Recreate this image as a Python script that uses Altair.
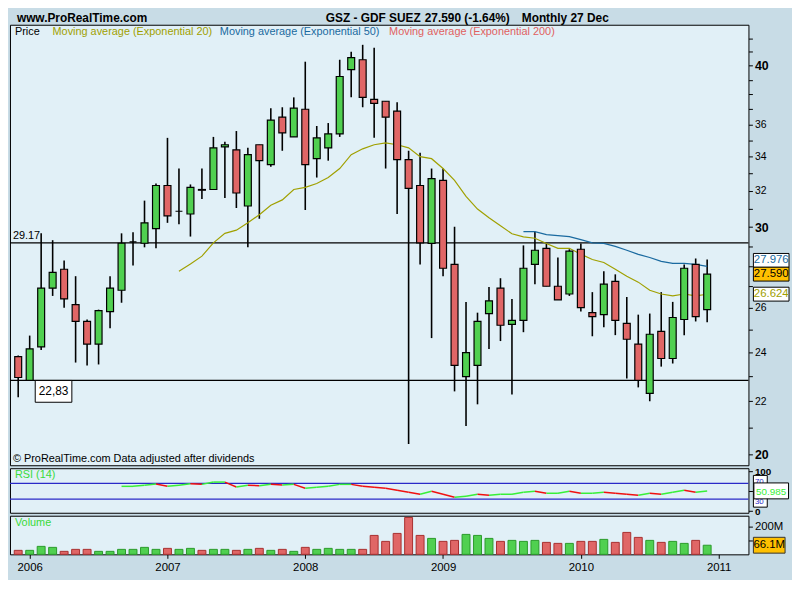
import altair as alt
import pandas as pd

FONT = "Liberation Sans"

# ---------------- data (monthly candles, index 0 = Dec 2005 ... 60 = Dec 2010) ----------------
opens = [23.82, 22.83, 24.24, 26.91, 27.83, 26.13, 25.36, 24.36, 25.81, 26.81,
         29.22, 29.15, 29.92, 32.31, 30.86, 30.71, 32.08, 32.08, 34.61, 34.43,
         31.15, 34.74, 33.53, 36.49, 35.23, 37.01, 33.89, 34.55, 35.42, 39.72,
         40.42, 37.67, 37.54, 36.88, 33.83, 32.31, 29.14, 32.60, 28.07, 22.99,
         23.45, 25.72, 26.91, 25.23, 25.41, 28.07, 28.89, 27.00, 26.63, 28.84,
         25.76, 25.67, 27.24, 25.27, 24.36, 22.31, 24.92, 23.74, 25.45, 28.07,
         25.90]
highs = [23.87, 24.73, 29.67, 29.31, 28.27, 27.49, 25.45, 25.90, 27.49, 29.67,
         29.73, 31.45, 32.42, 35.17, 33.30, 32.37, 33.30, 35.23, 34.92, 35.60,
         34.55, 34.74, 37.08, 37.14, 37.80, 40.28, 35.92, 36.11, 40.42, 41.00,
         41.51, 41.29, 37.54, 37.47, 34.37, 34.25, 33.30, 33.30, 30.02, 26.26,
         25.76, 26.96, 27.39, 26.40, 29.04, 29.76, 29.14, 28.42, 28.84, 29.14,
         26.72, 27.73, 27.58, 26.49, 25.67, 25.72, 26.72, 26.26, 28.07, 28.37,
         28.32]
lows = [22.16, 22.83, 24.10, 26.54, 25.99, 23.57, 23.45, 23.49, 25.05, 26.22,
        28.02, 28.94, 28.89, 30.23, 30.16, 29.50, 31.54, 32.08, 31.60, 31.04,
        28.94, 30.45, 33.41, 34.37, 35.23, 30.93, 32.77, 33.77, 35.23, 37.80,
        37.14, 35.17, 33.30, 30.71, 20.39, 28.07, 24.62, 27.49, 22.39, 21.05,
        21.88, 24.15, 24.49, 22.27, 24.88, 27.10, 27.00, 26.35, 26.54, 25.81,
        24.70, 25.10, 24.75, 22.91, 22.55, 22.00, 23.40, 23.53, 24.75, 25.36,
        25.32]
closes = [22.95, 24.15, 26.91, 27.68, 26.40, 25.36, 24.36, 25.85, 26.91, 29.15,
          29.22, 30.23, 32.31, 30.61, 30.86, 32.20, 32.04, 34.55, 34.74, 31.88,
          34.13, 33.77, 36.30, 35.48, 37.08, 33.53, 35.17, 35.42, 39.23, 40.57,
          37.80, 37.40, 36.49, 33.83, 32.14, 29.17, 32.71, 27.88, 23.45, 23.99,
          25.36, 26.31, 25.19, 25.41, 27.88, 28.79, 27.00, 26.35, 28.74, 25.99,
          25.58, 27.10, 25.41, 24.57, 22.83, 24.79, 23.74, 25.54, 27.88, 25.58,
          27.59]
volumes_m = [28.9, 28.9, 57.8, 50.6, 21.7, 36.1, 36.1, 21.7, 21.7, 36.1,
             36.1, 50.6, 36.1, 43.4, 36.1, 43.4, 28.9, 36.1, 36.1, 28.9,
             36.1, 43.4, 28.9, 36.1, 21.7, 50.6, 36.1, 43.4, 36.1, 36.1,
             36.1, 137.3, 94.0, 151.8, 267.5, 137.3, 115.7, 94.0, 101.2, 144.6,
             137.3, 115.7, 94.0, 101.2, 94.0, 101.2, 86.8, 79.5, 79.5, 94.0,
             94.0, 108.5, 86.8, 159.1, 122.9, 101.2, 86.8, 94.0, 79.5, 101.2,
             66.1]

ema20_start = 14
ema20 = [27.73, 28.09, 28.49, 29.17, 29.67, 29.84, 30.23, 30.67, 31.19, 31.49,
         32.08, 32.20, 32.42, 32.77, 33.30, 34.13, 34.49, 34.74, 34.86, 34.74,
         34.55, 34.01, 33.89, 33.30, 32.60, 31.69, 30.98, 30.50, 30.07, 29.65,
         29.48, 29.41, 29.14, 28.89, 28.89, 28.59, 28.32, 28.17, 27.83, 27.49,
         27.20, 26.81, 26.63, 26.54, 26.63, 26.54, 26.62]
ema50_start = 44
ema50 = [29.76, 29.76, 29.60, 29.55, 29.50, 29.34, 29.17, 29.14, 28.99, 28.79,
         28.58, 28.42, 28.22, 28.12, 28.12, 28.07, 27.98]
rsi_start = 9
rsi = [62.5, 62.5, 65.0, 68.3, 62.5, 65.0, 69.0, 67.5, 73.3, 73.3,
       60.8, 65.0, 64.2, 67.5, 65.8, 67.5, 57.5, 60.0, 62.5, 67.5,
       67.5, 62.5, 60.0, 57.5, 52.5, 47.5, 42.5, 50.0, 42.5, 35.0,
       37.5, 42.5, 40.0, 42.5, 42.5, 47.5, 50.0, 45.0, 45.0, 50.0,
       45.0, 45.0, 47.5, 45.0, 42.5, 40.0, 45.0, 42.5, 47.5, 52.5,
       47.5, 51.0]
rsi_levels = [70, 30]
rsi_level_label_pos = [73.75, 23.5]

year_ticks = [1, 13, 25, 37, 49, 61]
year_labels = ["2006", "2007", "2008", "2009", "2010", "2011"]
price_ticks = list(range(20, 43))
price_labels = [20, 22, 24, 26, 30, 32, 34, 36, 40]
support_levels = [29.17, 22.83]
support_labels = ["29.17", "22,83"]
last_values = [27.976, 27.59, 26.624]
last_labels = ["27.976", "27.590", "26.624"]
rsi_last, rsi_last_label = 50.985, "50.985"
vol_last, vol_last_label = 66.1, "66.1M"

# ---------------- styles ----------------
BG = "#c8dce6"
PANEL = "#e1f0f7"
GREEN, RED = "#50d050", "#e06666"
DKGREEN, DKRED = "#2a9a2a", "#a83030"
OLIVE, BLUE50, RED200 = "#a0a000", "#1a6aa0", "#e06060"
RSI_UP, RSI_DOWN, RSI_LVL = "#38f038", "#f01010", "#2a2ac8"
TXT_GREEN = "#3ada3a"
ORANGE = "#ffc000"

PW, PH, RH, VH = 746, 445, 45, 39
xscale = alt.Scale(domain=[-0.7155, 63.595], nice=False, zero=False, padding=0)
pscale = alt.Scale(type="log", domain=[19.63, 43.02], nice=False, padding=0)
rscale = alt.Scale(domain=[-4.25, 108.25], nice=False, zero=False, padding=0)
vscale = alt.Scale(domain=[0, 280], nice=False, zero=False, padding=0)

df = pd.DataFrame({"i": list(range(len(opens))), "open": opens, "high": highs,
                   "low": lows, "close": closes, "vol": volumes_m})
up = alt.datum.close >= alt.datum.open
X = alt.X("i:Q", scale=xscale, axis=None)

# ---------------- axes ----------------
lab_list = ",".join(str(v) for v in price_labels)
price_axis = alt.Axis(
    orient="right", values=price_ticks, title=None, grid=False, domain=False,
    tickSize=4, tickColor="black", labelPadding=2,
    labelExpr=f"indexof([{lab_list}], datum.value) >= 0 ? datum.label : ''",
    labelFontWeight={"condition": {"test": "datum.value % 10 == 0", "value": "bold"}, "value": "normal"},
    labelFontSize={"condition": {"test": "datum.value % 10 == 0", "value": 12.5}, "value": 10.5},
)
rsi_axis = alt.Axis(orient="right", values=[0, 50, 100], title=None, grid=False, domain=False,
                    tickSize=4, labelPadding=2, labelFontWeight="bold", labelFontSize=10,
                    labelExpr="datum.value == 50 ? '' : datum.label")
vol_axis = alt.Axis(orient="right", values=[100, 200], title=None, grid=False, domain=False,
                    tickSize=4, labelPadding=2, labelFontSize=11.5,
                    labelExpr="datum.value == 200 ? '200M' : ''")
year_expr = " : ".join(f"datum.value == {t} ? '{l}'" for t, l in zip(year_ticks, year_labels)) + " : ''"
x_axis = alt.Axis(orient="bottom", values=year_ticks, labelExpr=year_expr, title=None, grid=False,
                  domain=False, tickSize=4, labelPadding=3, labelFontSize=11.5)


def PY(f):
    return alt.Y(f, type="quantitative", scale=pscale, axis=price_axis, title=None)


def RY(f):
    return alt.Y(f, type="quantitative", scale=rscale, axis=rsi_axis, title=None)


def VY(f):
    return alt.Y(f, type="quantitative", scale=vscale, axis=vol_axis, title=None)


def txt(text, x, y, color="black", size=11, weight="normal", align="left"):
    return alt.Chart(pd.DataFrame({"t": [text]})).mark_text(
        align=align, baseline="middle", font=FONT, fontSize=size,
        fontWeight=weight, color=color).encode(
        text="t:N", x=alt.value(x), y=alt.value(y))


def box_shape(top, bottom):
    return f"M-1,{top}L1,{top}L1,{bottom}L-1,{bottom}Z"


# ---------------- price panel ----------------
sup_df = pd.DataFrame({"v": support_levels, "lab": support_labels})
sup_rules = alt.Chart(sup_df).mark_rule(color="black", strokeWidth=1.2).encode(y=PY("v"))
sup_txt1 = alt.Chart(sup_df.iloc[[0]]).mark_text(
    align="left", baseline="middle", dy=-7, font=FONT, fontSize=11, color="black").encode(
    x=alt.value(3), y=PY("v"), text="lab:N")
sup_box2 = alt.Chart(sup_df.iloc[[1]]).mark_point(
    shape=box_shape(0, 1.19), size=37 ** 2, filled=True, fill="white",
    stroke="black", strokeWidth=1, opacity=1).encode(x=alt.value(44), y=PY("v"))
sup_txt2 = alt.Chart(sup_df.iloc[[1]]).mark_text(
    align="center", baseline="middle", dy=11, font=FONT, fontSize=12, color="black").encode(
    x=alt.value(44), y=PY("v"), text="lab:N")

e20 = pd.DataFrame({"i": list(range(ema20_start, ema20_start + len(ema20))), "v": ema20})
e50 = pd.DataFrame({"i": list(range(ema50_start, ema50_start + len(ema50))), "v": ema50})
ema20_line = alt.Chart(e20).mark_line(color=OLIVE, strokeWidth=1.2).encode(x=X, y=PY("v"))
ema50_line = alt.Chart(e50).mark_line(color=BLUE50, strokeWidth=1.3).encode(x=X, y=PY("v"))

wicks = alt.Chart(df).mark_rule(color="black", strokeWidth=1.6).encode(
    x=X, y=PY("low"), y2="high:Q")
bodies = alt.Chart(df).mark_bar(size=7, stroke="black", strokeWidth=1.2).encode(
    x=X, y=PY("open"), y2="close:Q",
    color=alt.condition(up, alt.value(GREEN), alt.value(RED)))

lv = pd.DataFrame({"v": last_values, "lab": last_labels})


def value_box(row, fill, tcolor, shift=0):
    d = lv.iloc[[row]]
    off = shift / 18.0
    b = alt.Chart(d).mark_point(shape=box_shape(round(-0.39 + off, 3), round(0.39 + off, 3)),
                                size=36 ** 2, filled=True, fill=fill,
                                stroke="black", strokeWidth=1, opacity=1).encode(
        x=alt.value(769), y=PY("v"))
    t = alt.Chart(d).mark_text(align="center", baseline="middle", font=FONT, dy=shift,
                               fontSize=11.5, color=tcolor).encode(
        x=alt.value(769), y=PY("v"), text="lab:N")
    return b + t


price = alt.layer(
    wicks, sup_rules, ema20_line, ema50_line, bodies, sup_txt1, sup_box2, sup_txt2,
    value_box(0, "white", BLUE50, shift=-6), value_box(1, ORANGE, "black"),
    value_box(2, "white", OLIVE),
    txt("Price", 5, 7),
    txt("Moving average (Exponential 20)", 43, 7, OLIVE),
    txt("Moving average (Exponential 50)", 212, 7, BLUE50),
    txt("Moving average (Exponential 200)", 383, 7, RED200),
    txt("\u00a9 ProRealTime.com  Data adjusted after dividends", 3, 439),
    txt("www.ProRealTime.com", 7, -7, size=12, weight="bold"),
    txt("GSZ - GDF SUEZ", 319, -7, size=12, weight="bold"),
    txt("27.590 (-1.64%)", 419, -7, size=12, weight="bold"),
    txt("Monthly  27 Dec", 517, -7, size=12, weight="bold"),
).properties(width=PW, height=PH)

# ---------------- RSI panel ----------------
seg = pd.DataFrame({
    "x": [rsi_start + j for j in range(len(rsi) - 1)],
    "x2": [rsi_start + j + 1 for j in range(len(rsi) - 1)],
    "y": rsi[:-1], "y2": rsi[1:],
})
rsi_lv = alt.Chart(pd.DataFrame({"v": rsi_levels})).mark_rule(color=RSI_LVL, strokeWidth=1.3).encode(
    y=RY("v"))
rsi_seg = alt.Chart(seg).mark_rule(strokeWidth=1.5).encode(
    x=alt.X("x:Q", scale=xscale, axis=None), x2="x2:Q",
    y=RY("y"), y2="y2:Q",
    color=alt.condition(alt.datum.y2 >= alt.datum.y, alt.value(RSI_UP), alt.value(RSI_DOWN)))
lvl_box = alt.Chart(pd.DataFrame({"v": [sum(rsi_levels) / 2]})).mark_point(
    shape=box_shape(-2.29, 2.29), size=14 ** 2, filled=True,
    fill="white", stroke="black", strokeWidth=1, opacity=1).encode(
    x=alt.value(758), y=RY("v"))
lvl_txt = alt.Chart(pd.DataFrame({"v": rsi_level_label_pos,
                                  "lab": [str(v) for v in rsi_levels]})).mark_text(
    align="center", baseline="middle", font=FONT, fontSize=8, color=RSI_LVL).encode(
    x=alt.value(757), y=RY("v"), text="lab:N")
rl = pd.DataFrame({"v": [rsi_last], "lab": [rsi_last_label]})
rsi_box = alt.Chart(rl).mark_point(shape=box_shape(-0.46, 0.46), size=35 ** 2, filled=True,
                                   fill="white", stroke="black", strokeWidth=1, opacity=1).encode(
    x=alt.value(769), y=RY("v"))
rsi_btxt = alt.Chart(rl).mark_text(align="center", baseline="middle", font=FONT, fontSize=10,
                                   dy=1, color=RSI_UP).encode(
    x=alt.value(769), y=RY("v"), text="lab:N")
rsi_chart = alt.layer(
    rsi_lv, rsi_seg, lvl_box, lvl_txt, rsi_box, rsi_btxt,
    txt("RSI (14)", 5, 7, TXT_GREEN),
).properties(width=PW, height=RH)

# ---------------- volume panel ----------------
vbars = alt.Chart(df).mark_bar(size=8, strokeWidth=1).encode(
    x=alt.X("i:Q", scale=xscale, axis=x_axis),
    y=VY("vol"),
    color=alt.condition(up, alt.value(GREEN), alt.value(RED)),
    stroke=alt.condition(up, alt.value(DKGREEN), alt.value(DKRED)))
vl = pd.DataFrame({"v": [vol_last], "lab": [vol_last_label]})
vol_box = alt.Chart(vl).mark_point(shape=box_shape(-0.5, 0.5), size=32 ** 2, filled=True,
                                   fill=ORANGE, stroke="#333333", strokeWidth=1, opacity=1).encode(
    x=alt.value(767), y=VY("v"))
vol_btxt = alt.Chart(vl).mark_text(align="center", baseline="middle", font=FONT, fontSize=11.5,
                                   color="black").encode(
    x=alt.value(767), y=VY("v"), text="lab:N")
vol_chart = alt.layer(
    vbars, vol_box, vol_btxt, txt("Volume", 5, 7, TXT_GREEN),
).properties(width=PW, height=VH)

chart = alt.vconcat(price, rsi_chart, vol_chart, spacing=3, bounds="flush").properties(
    background=BG, padding={"left": 0, "top": 0, "right": 0, "bottom": 4}
).configure_view(fill=PANEL, stroke="black", strokeWidth=1).configure_axis(
    labelFont=FONT, labelColor="black", tickColor="black", tickWidth=1)

chart.save("out.html", embed_options={"renderer": "svg", "actions": False})
